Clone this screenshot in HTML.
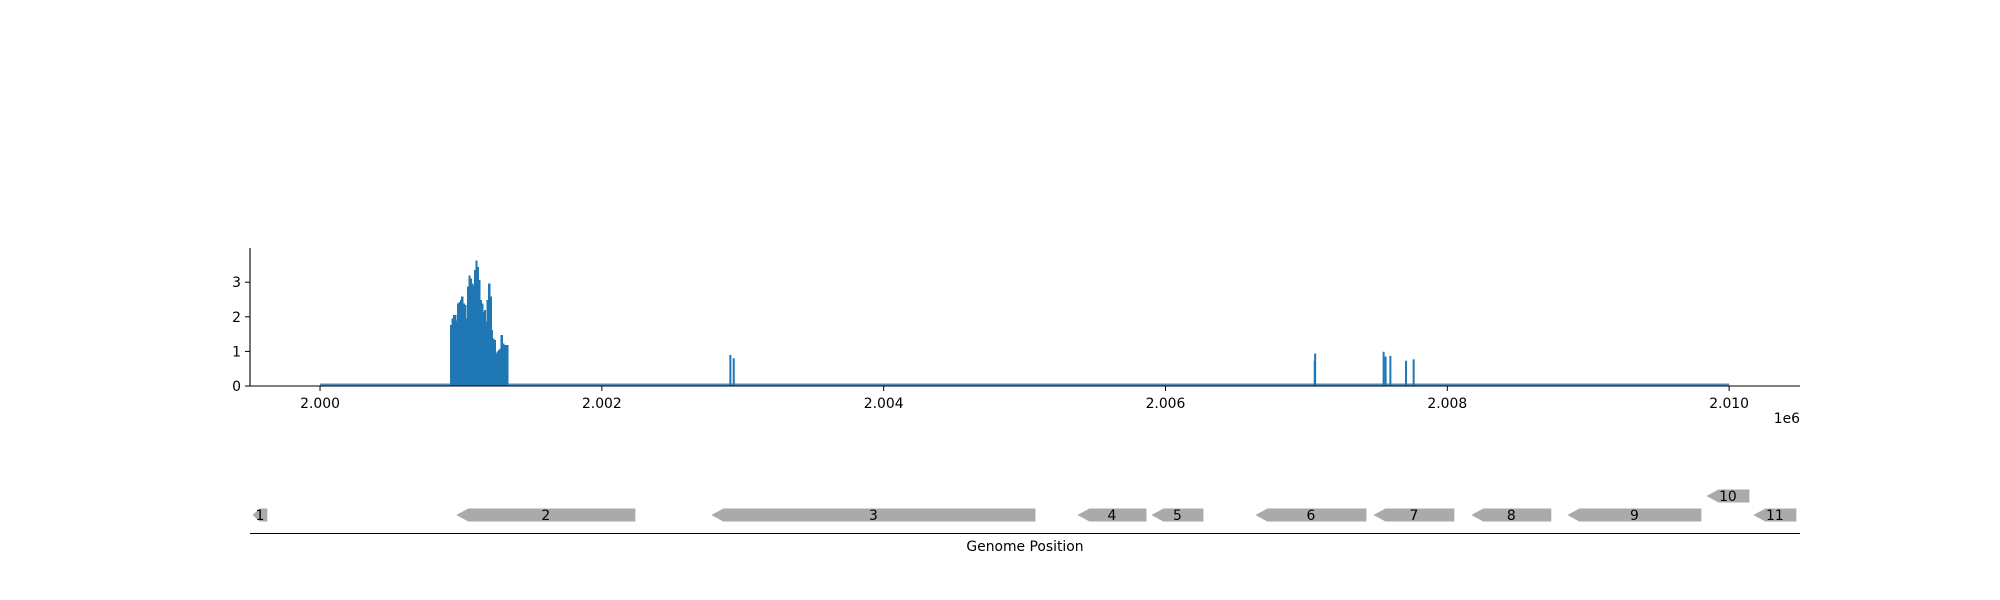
<!DOCTYPE html>
<html><head><meta charset="utf-8"><style>
html,body{margin:0;padding:0;background:#fff;}
svg{display:block;font-family:"DejaVu Sans","Liberation Sans",sans-serif;}
</style></head><body>
<svg id="chart" width="2000" height="600" viewBox="0 0 2000 600">
<g id="cov"></g>
<g id="genes"></g>
</svg>
<script>
const covStart = 2000922;
const covBin = 10;
const covValues = [1.76,1.95,2.05,2.05,1.9,2.38,2.43,2.48,2.58,2.38,2.34,1.95,2.87,3.2,3.1,2.96,2.91,3.35,3.63,3.44,3.06,2.48,2.38,2.14,2.19,1.86,2.48,2.96,2.58,1.62,1.38,1.33,0.94,0.99,1.04,1.09,1.47,1.23,1.18,1.18,1.18];
const peakPos = [2002905,2002929,2007052,2007055,2007541,2007555,2007589,2007700,2007754];
const peakVals = [0.9,0.8,0.73,0.94,0.99,0.85,0.87,0.73,0.77];
const xTicks = [2000000,2002000,2004000,2006000,2008000,2010000];
const xTickLabels = ["2.000","2.002","2.004","2.006","2.008","2.010"];
const yTicks = [0,1,2,3];
const geneNames = ["1","2","3","4","5","6","7","8","9","10","11"];
const geneStarts = [1999520,2000967,2002777,2005375,2005900,2006638,2007476,2008170,2008852,2009839,2010172];
const geneEnds = [1999626,2002238,2005077,2005865,2006269,2007426,2008050,2008738,2009803,2010144,2010477];
const geneRows = [0,0,0,0,0,0,0,0,0,1,0];

const NS="http://www.w3.org/2000/svg";
const x0=250,x1=1800,dom0=1999503,dom1=2010503;
const X=v=>x0+(v-dom0)/(dom1-dom0)*(x1-x0);
const yBase=386,yUnit=34.6;
const Y=v=>yBase-v*yUnit;
function mk(tag,attrs,parent){const e=document.createElementNS(NS,tag);for(const k in attrs)e.setAttribute(k,attrs[k]);parent.appendChild(e);return e;}
const cov=document.getElementById('cov');
let bl=mk('rect',{x:X(2000000),y:Y(0)-2.5,width:X(2010000)-X(2000000),height:2,fill:'#4a8fc7'},cov);


covValues.forEach((v,i)=>{
  const xa=X(covStart+i*covBin),xb=X(covStart+(i+1)*covBin);
  const r=mk('rect',{x:xa,y:Y(v),width:xb-xa+1,height:Y(0)-Y(v),fill:'#1f77b4','shape-rendering':'crispEdges'},cov);
  
  
});
peakPos.forEach((p,i)=>{
  const r=mk('rect',{x:X(p),y:Y(peakVals[i]),width:2,height:Y(0)-Y(peakVals[i]),fill:'#1f77b4'},cov);
  
  
});
let ya=mk('line',{x1:x0,y1:248,x2:x0,y2:yBase,stroke:'#000','stroke-width':1.1},cov);


let xa=mk('line',{x1:x0,y1:yBase,x2:x1,y2:yBase,stroke:'#000','stroke-width':1.1},cov);


yTicks.forEach(t=>{
  mk('line',{x1:x0-5,y1:Y(t),x2:x0,y2:Y(t),stroke:'#000','stroke-width':1},cov);
  const tx=mk('text',{x:x0-9,y:Y(t)+5,'text-anchor':'end','font-size':13.9,fill:'#000'},cov);
  tx.textContent=t;
  
  
});
xTicks.forEach((t,i)=>{
  mk('line',{x1:X(t),y1:yBase,x2:X(t),y2:yBase+5,stroke:'#000','stroke-width':1},cov);
  const tx=mk('text',{x:X(t),y:yBase+22,'text-anchor':'middle','font-size':13.9,fill:'#000'},cov);
  tx.textContent=xTickLabels[i];
  
  
});
let off=mk('text',{x:1800,y:423,'text-anchor':'end','font-size':13.9,fill:'#000'},cov);
off.textContent='1e6';


const g=document.getElementById('genes');
geneNames.forEach((n,i)=>{
  const a=X(geneStarts[i]),b=X(geneEnds[i]);
  const cy=geneRows[i]?496:515,h=6.5,tip=Math.min(12,(b-a)*0.5);
  const p=mk('polygon',{points:`${a},${cy} ${a+tip},${cy-h} ${b},${cy-h} ${b},${cy+h} ${a+tip},${cy+h}`,fill:'#aaaaaa'},g);
  
  
  const t=mk('text',{x:(a+b)/2,y:cy+5,'text-anchor':'middle','font-size':13.9,fill:'#000'},g);
  t.textContent=n;
  
  
});
let gl=mk('line',{x1:x0,y1:533.5,x2:x1,y2:533.5,stroke:'#000','stroke-width':1.1},g);


let gt=mk('text',{x:1025,y:551,'text-anchor':'middle','font-size':13.9,fill:'#000'},g);
gt.textContent='Genome Position';


</script>
</body></html>
